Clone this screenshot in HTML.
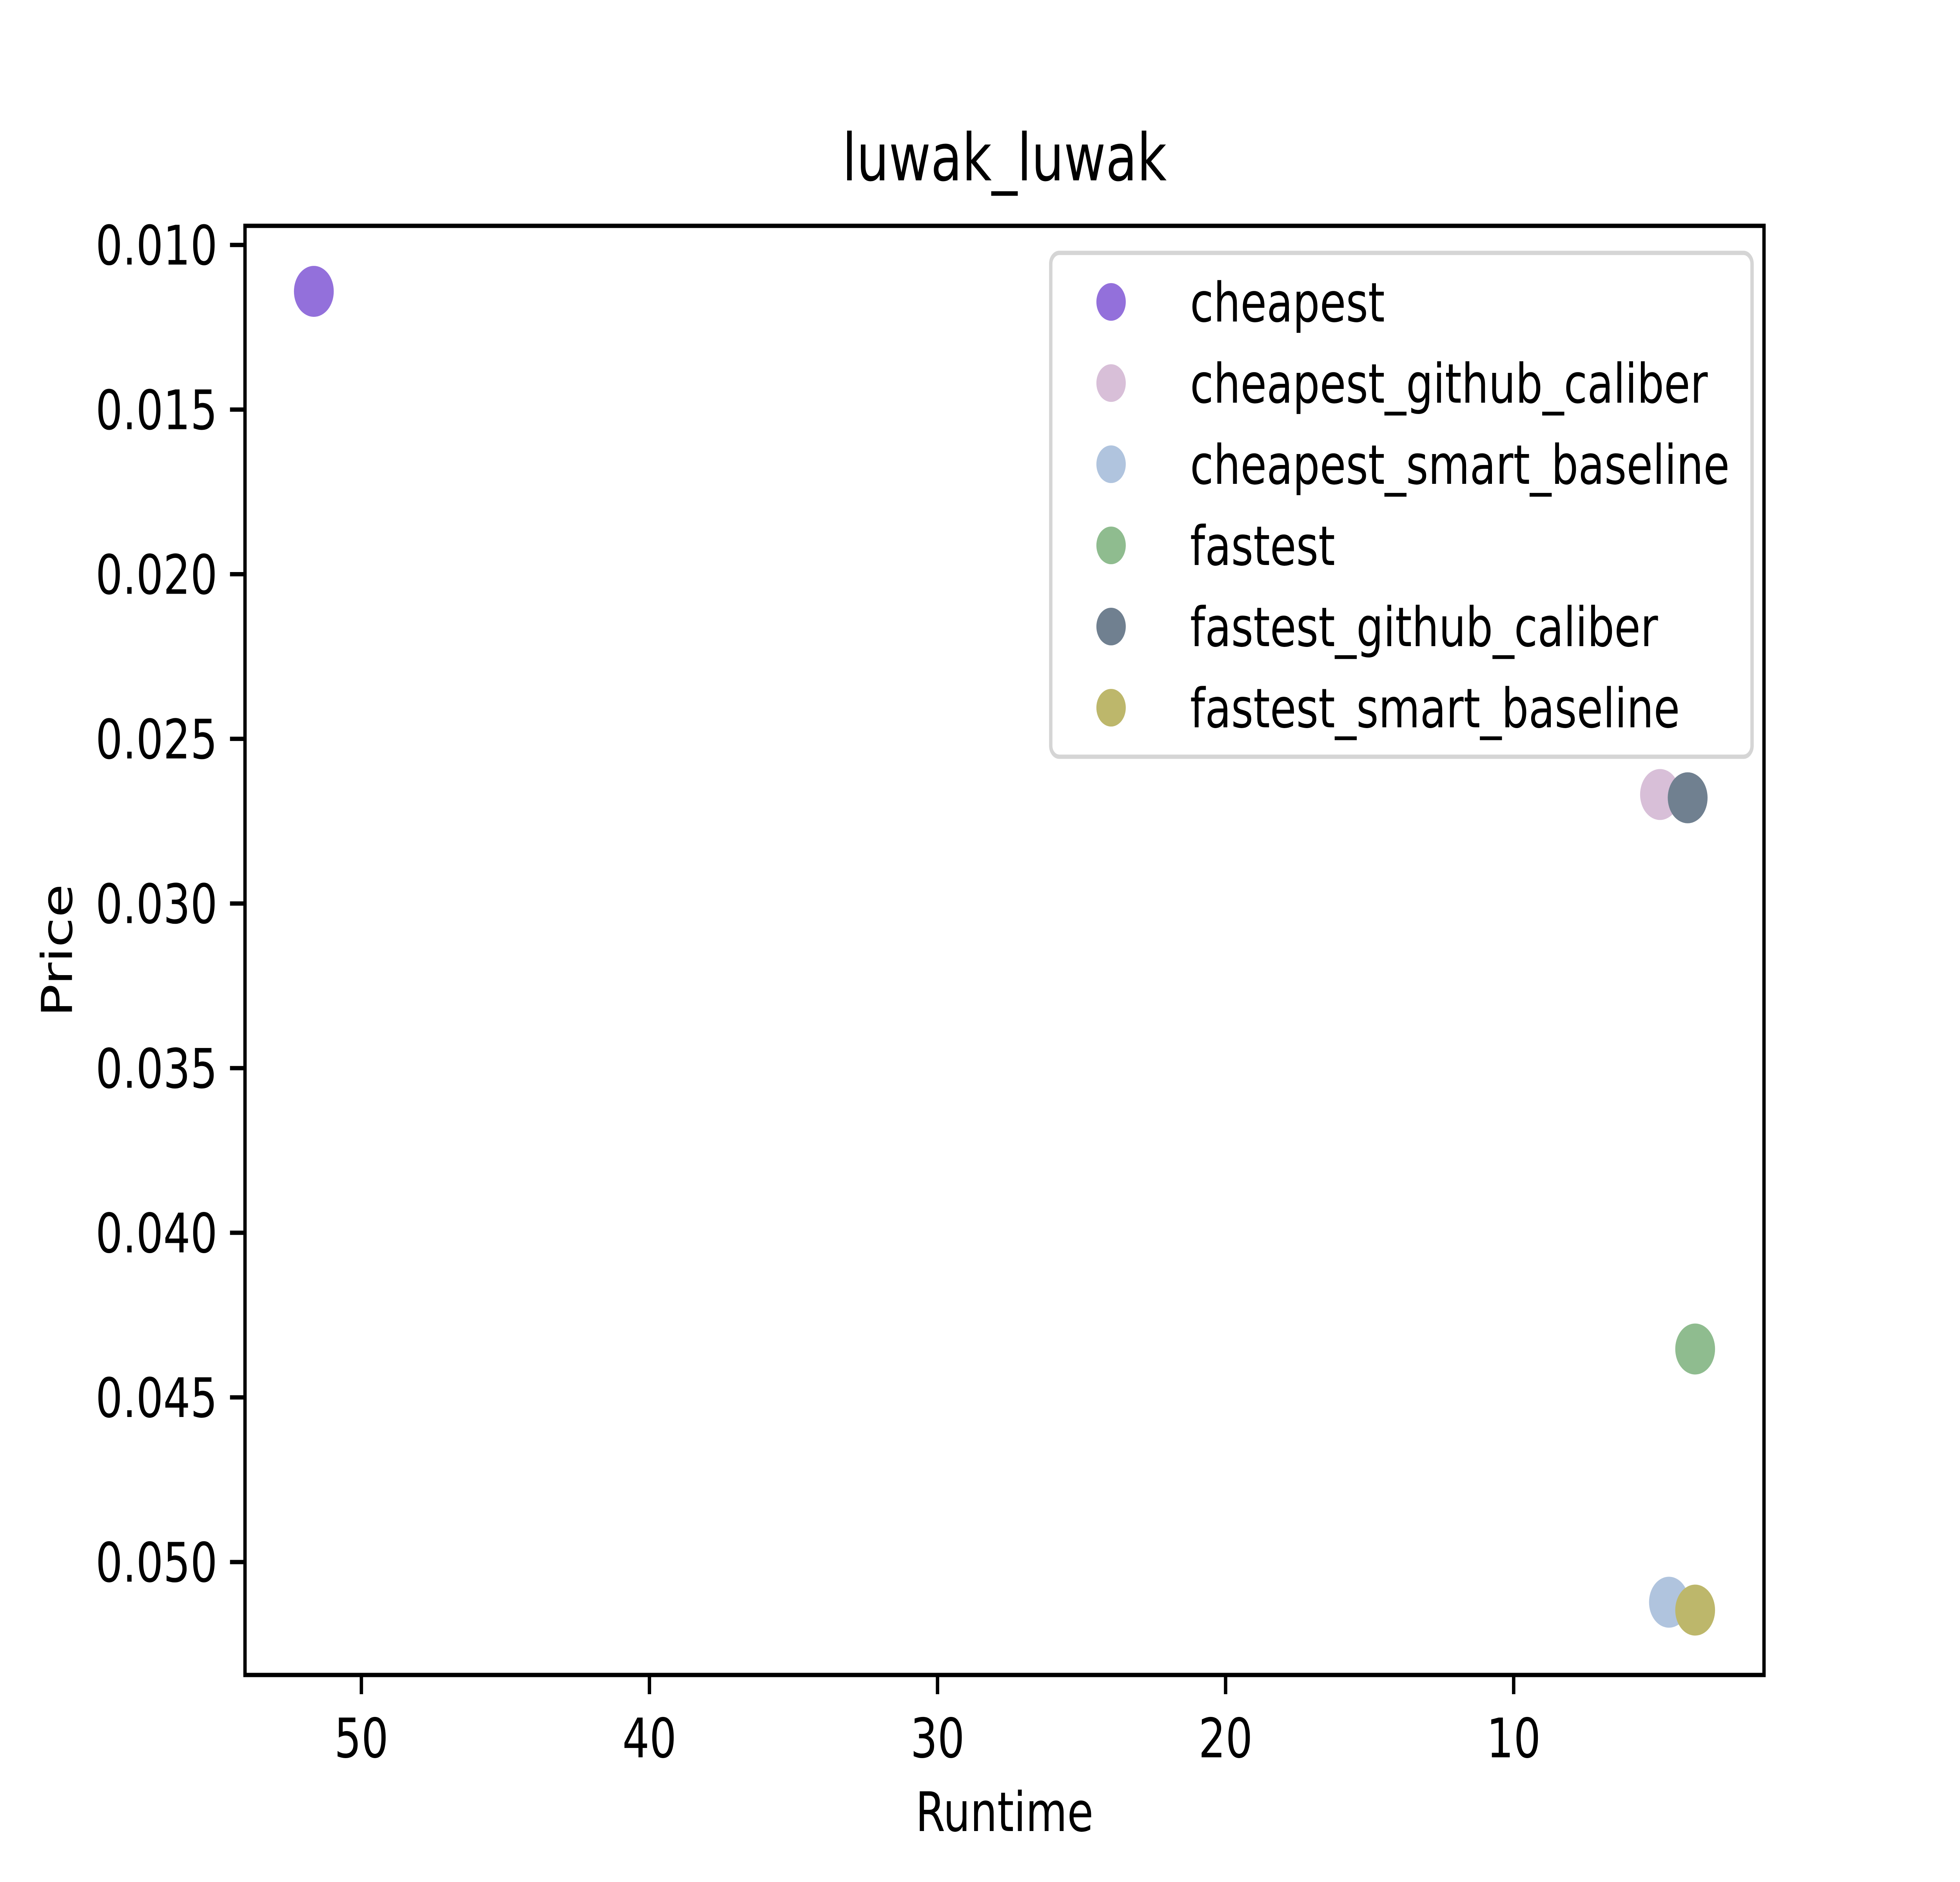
<!DOCTYPE html>
<html><head><meta charset="utf-8"><style>
html,body{margin:0;padding:0;background:#fff;width:100vw;height:100vh;overflow:hidden;}
svg{display:block;width:100vw;height:100vh;font-family:"DejaVu Sans","Liberation Sans",sans-serif;}
</style></head><body>
<svg id="chart" viewBox="0 0 6400 4800" preserveAspectRatio="none">
<rect x="0" y="0" width="6400" height="4800" fill="#fff"/>
<text x="3280" y="460" font-size="167" text-anchor="middle">luwak_luwak</text>
<g id="plot"></g>
<rect x="800" y="576" width="4960" height="3696" fill="none" stroke="#000" stroke-width="11"/>
<text x="3280" y="4670" font-size="139" text-anchor="middle">Runtime</text>
<text transform="translate(235,2424) rotate(-90)" font-size="139" text-anchor="middle">Price</text>
<g id="legend"></g>
</svg>
<script>
const seriesNames = ["cheapest","cheapest_github_caliber","cheapest_smart_baseline","fastest","fastest_github_caliber","fastest_smart_baseline"];
const runtimes = [51.65, 4.92, 4.61, 3.70, 3.96, 3.70];
const prices = [0.01141, 0.02669, 0.05122, 0.04353, 0.02679, 0.05146];
const colors = ["#9370DB","#D8BFD8","#B0C4DE","#8FBC8F","#708090","#BDB76B"];
const xTicks = [50, 40, 30, 20, 10];
const yTicks = [0.010, 0.015, 0.020, 0.025, 0.030, 0.035, 0.040, 0.045, 0.050];

const X0 = 800, X1 = 5760, Y0 = 576, Y1 = 4272;
const xMin = 54.04, xMax = 1.31;
const yMin = 0.00942, yMax = 0.05343;
function sx(v){ return X0 + (v - xMin) / (xMax - xMin) * (X1 - X0); }
function sy(v){ return Y0 + (v - yMin) / (yMax - yMin) * (Y1 - Y0); }

const NS = "http://www.w3.org/2000/svg";
const plot = document.getElementById('plot');
const svg = document.getElementById('chart');
function mk(tag, attrs, parent){ const e = document.createElementNS(NS, tag); for (const k in attrs) e.setAttribute(k, attrs[k]); parent.appendChild(e); return e; }

xTicks.forEach(t => {
  const x = sx(t);
  const l = mk('line', {x1:x, x2:x, y1:Y1, y2:Y1+49, stroke:'#000','stroke-width':11}, svg);
  
  
  const tx = mk('text', {x:x, y:Y1+210, 'font-size':139, 'text-anchor':'middle'}, svg);
  tx.textContent = String(t);
  
  
});
yTicks.forEach(t => {
  const y = sy(t);
  const l = mk('line', {x1:X0-49, x2:X0, y1:y, y2:y, stroke:'#000','stroke-width':11}, svg);
  
  
  const tx = mk('text', {x:X0-90, y:y+50, 'font-size':139, 'text-anchor':'end'}, svg);
  tx.textContent = t.toFixed(3);
  
  
});

seriesNames.forEach((n, i) => {
  const c = mk('circle', {cx:sx(runtimes[i]), cy:sy(prices[i]), r:65, fill:colors[i]}, plot);
  
  
});

const lg = document.getElementById('legend');
const box = mk('rect', {x:3431, y:645, width:2290, height:1285, rx:28, fill:'#fff', 'fill-opacity':0.8, stroke:'#d5d5d5', 'stroke-width':11}, lg);


seriesNames.forEach((n, i) => {
  const y = 770 + i * 207;
  const c = mk('circle', {cx:3628, cy:y, r:48, fill:colors[i]}, lg);
  
  
  const t = mk('text', {x:3886, y:y+50, 'font-size':139}, lg);
  t.textContent = n;
  
  
});
</script>
</body></html>
